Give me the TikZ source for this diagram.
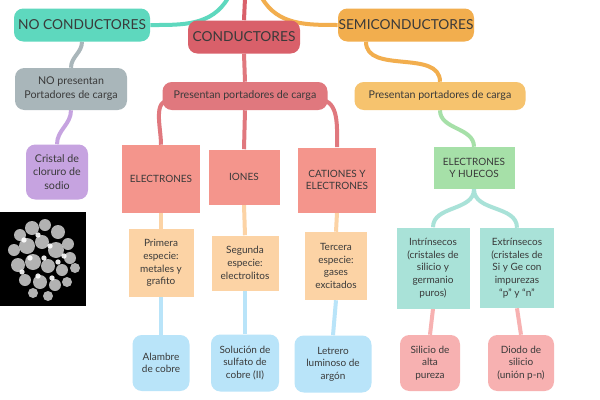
\documentclass[tikz,border=0pt]{standalone}
\usepackage{fontspec}
\setmainfont{Lato}
\usetikzlibrary{backgrounds}
\definecolor{teal1}{HTML}{5ED8BE}
\definecolor{red1}{HTML}{D9606A}
\definecolor{ora1}{HTML}{F2AE4E}
\definecolor{gray1}{HTML}{A9B6BA}
\definecolor{red2}{HTML}{E0787E}
\definecolor{ora2}{HTML}{F6C36E}
\definecolor{pur1}{HTML}{C6A3E0}
\definecolor{sal1}{HTML}{F4958C}
\definecolor{grn1}{HTML}{A6E0A8}
\definecolor{pea1}{HTML}{FCD3A5}
\definecolor{aq1}{HTML}{A9E2D8}
\definecolor{blu1}{HTML}{B9E4F9}
\definecolor{pnk1}{HTML}{F7B1B1}
\definecolor{txt}{HTML}{3A3A3A}
\begin{document}
\begin{tikzpicture}[x=0.75pt,y=-0.75pt,
 box/.style={draw=none,inner sep=0pt,align=center,text=txt,font=\fontsize{7.5}{9.5}\selectfont},
 rbox/.style={box,rounded corners=7pt},
 sz/.style 2 args={minimum width=#1*0.75pt,minimum height=#2*0.75pt},
 big/.style={font=\fontsize{10.3}{13}\selectfont},
 con/.style={line width=3pt}]
\useasboundingbox (0,0) rectangle (600,400);
\node[rbox,big,fill=teal1,sz={136}{33}] (nc) at (82,25) {NO CONDUCTORES};
\node[rbox,big,fill=red1,sz={112}{33}] (c) at (244,37) {CONDUCTORES};
\node[rbox,big,fill=ora1,sz={136}{33}] (sc) at (406,25) {SEMICONDUCTORES};
\node[rbox,fill=gray1,sz={112}{42},font=\fontsize{8}{10.5}\selectfont] (np) at (71,89) {NO presentan\\Portadores de carga};
\node[rbox,fill=red2,sz={165}{28},font=\fontsize{8}{10.5}\selectfont] (pc) at (245,96) {Presentan portadores de carga};
\node[rbox,fill=ora2,sz={171}{28},font=\fontsize{8}{10.5}\selectfont] (ps) at (440,96) {Presentan portadores de carga};
\node[rbox,fill=pur1,sz={62}{55},font=\fontsize{8}{10}\selectfont] (cr) at (57,172) {Cristal de\\cloruro de\\sodio};
\node[box,fill=sal1,sz={78}{68}] (e) at (161,179) {ELECTRONES};
\node[box,fill=sal1,sz={71}{55}] (i) at (244,177) {IONES};
\node[box,fill=sal1,sz={78}{65}] (ca) at (337,180) {CATIONES Y\\ELECTRONES};
\node[box,fill=grn1,sz={81}{42}] (eh) at (474,168) {ELECTRONES\\Y HUECOS};
\node[box,fill=pea1,sz={65}{68}] (p1) at (161,263) {Primera\\especie:\\metales y\\grafito};
\node[box,fill=pea1,sz={67}{55}] (p2) at (245,263) {Segunda\\especie:\\electrolitos};
\node[box,fill=pea1,sz={62}{68}] (p3) at (336,266) {Tercera\\especie:\\gases\\excitados};
\node[box,fill=aq1,sz={73}{81}] (in) at (433,268) {Intrínsecos\\(cristales de\\silicio y\\germanio\\puros)};
\node[box,fill=aq1,sz={74}{80}] (ex) at (517,268) {Extrínsecos\\(cristales de\\Si y Ge con\\impurezas\\“p” y “n”};
\node[rbox,fill=blu1,sz={57}{56}] (a1) at (161,363) {Alambre\\de cobre};
\node[rbox,fill=blu1,sz={68}{57}] (a2) at (245,363) {Solución de\\sulfato de\\cobre (II)};
\node[rbox,fill=blu1,sz={77}{57}] (a3) at (333,364) {Letrero\\luminoso de\\argón};
\node[rbox,fill=pnk1,sz={60}{56}] (s1) at (430,363) {Silicio de\\alta\\pureza};
\node[rbox,fill=pnk1,sz={66}{56}] (s2) at (521,363) {Diodo de\\silicio\\(unión p-n)};
% photo
\node[box,fill=black,sz={86}{94}] (img) at (43,259) {};
\begin{scope}
\clip (img.south west) rectangle (img.north east);
\foreach \x/\y/\r in {20/235/6,32/228/7,45/225/6,58/232/7,68/244/6,14/250/6,27/246/8,42/242/7,56/250/8,70/258/6,18/265/7,33/262/8,48/266/7,62/270/6,75/268/5,25/280/6,40/282/7,55/285/6,67/282/5,33/293/5,48/296/5}
 \fill[gray!35!white,opacity=0.85] (\x,\y) circle[radius=\r*0.75pt];
\foreach \x/\y in {24/240,38/235,50/246,30/258,44/258,58/262,22/272,38/276,52/278,64/256}
 \fill[white,opacity=0.9] (\x,\y) circle[radius=2pt];
\end{scope}
\coordinate (t1) at (228,-2);
\coordinate (t2) at (245,-2);
\coordinate (t3) at (262,-2);
\begin{scope}[on background layer]
\fill[white] (0,0) rectangle (600,400);
\draw[con,teal1] (t1) to[out=-120,in=0] (nc.east);
\draw[con,red1] (t2) -- (c.north);
\draw[con,ora1] (t3) to[out=-60,in=180] (sc.west);
\draw[con,gray1] (nc.south) to[out=-90,in=90] (np.north);
\draw[con,pur1] (np.south) to[out=-90,in=90] (cr.north);
\draw[con,red2] (c.south) -- (pc.north);
\draw[con,ora1] ([xshift=-30pt]sc.south) to[out=-90,in=90] (ps.north);
\draw[con,red2] ([xshift=6pt,yshift=-3pt]pc.west) to[out=180,in=90] (e.north);
\draw[con,red2] (pc.south) -- (i.north);
\draw[con,red2] ([xshift=-6pt,yshift=-3pt]pc.east) to[out=0,in=90] (ca.north);
\draw[con,grn1] (ps.south) to[out=-90,in=90] (eh.north);
\draw[con,aq1] (eh.south) to[out=-90,in=90] (in.north);
\draw[con,aq1] (eh.south) to[out=-90,in=90] (ex.north);
\draw[con,pea1] (e.south) -- (p1.north);
\draw[con,pea1] (i.south) -- (p2.north);
\draw[con,pea1] (ca.south) -- (p3.north);
\draw[con,blu1] (p1.south) -- (a1.north);
\draw[con,blu1] (p2.south) -- (a2.north);
\draw[con,blu1] (p3.south) -- (a3.north);
\draw[con,pnk1] (in.south) -- (s1.north);
\draw[con,pnk1] (ex.south) -- (s2.north);
\end{scope}
\end{tikzpicture}
\end{document}
